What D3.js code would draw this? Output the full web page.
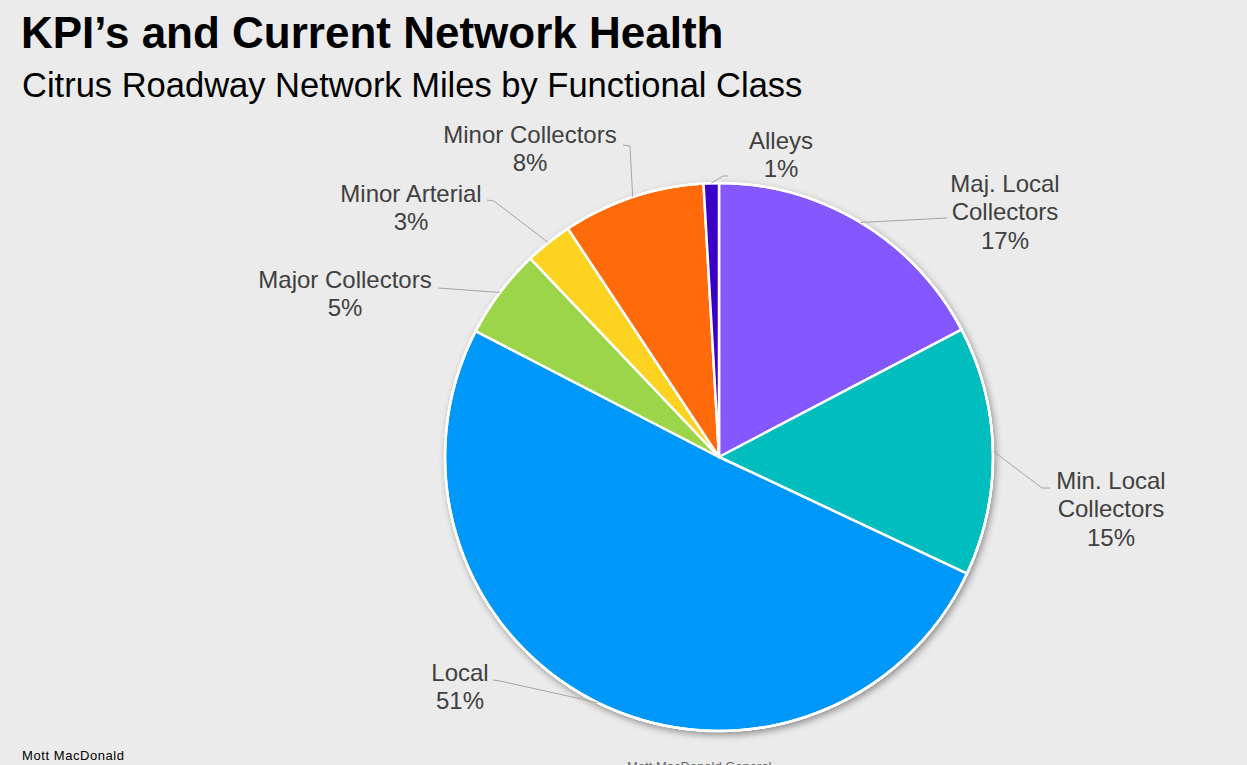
<!DOCTYPE html>
<html>
<head>
<meta charset="utf-8">
<script src="https://cdn.jsdelivr.net/npm/d3@7"></script>
<style>
  html, body { margin: 0; padding: 0; background: #ebebeb; }
  svg { display: block; }
</style>
</head>
<body>
<script>
// ---- data ----
const categories = ["Maj. Local Collectors", "Min. Local Collectors", "Local", "Major Collectors", "Minor Arterial", "Minor Collectors", "Alleys"];
const labelLines = [["Maj. Local", "Collectors"], ["Min. Local", "Collectors"], ["Local"], ["Major Collectors"], ["Minor Arterial"], ["Minor Collectors"], ["Alleys"]];
const shares = [17.3, 14.7, 50.6, 5.3, 2.8, 8.4, 0.9];
const colors = ["#8557ff", "#02bdbd", "#0097fb", "#9cd44a", "#fdd322", "#ff6a0b", "#3a00c8"];

// ---- layout (label anchor centres and leader elbows) ----
const labelLayout = [
  { x: 1005, y: 183, elbow: [[947, 218]] },
  { x: 1111, y: 480, elbow: [[1042, 488], [1050, 488]] },
  { x: 460,  y: 672, elbow: [[500, 681], [493, 680]] },
  { x: 345,  y: 279, elbow: [[438, 288]] },
  { x: 411,  y: 193, elbow: [[494, 201], [487, 200]] },
  { x: 530,  y: 134, elbow: [[630, 146], [623, 145]] },
  { x: 781,  y: 140, elbow: [[723, 176], [728, 176]] }
];

const W = 1247, H = 765;
const cx = 719, cy = 457, R = 274;
const svg = d3.select("body").append("svg").attr("width", W).attr("height", H);

svg.append("rect").attr("width", W).attr("height", H).attr("fill", "#ebebeb");

const defs = svg.append("defs");
const f = defs.append("filter").attr("id", "shadow").attr("x", "-10%").attr("y", "-10%").attr("width", "125%").attr("height", "125%");
f.append("feDropShadow").attr("dx", 2).attr("dy", 3).attr("stdDeviation", 3.5)
  .attr("flood-color", "#000").attr("flood-opacity", 0.4);

// Titles
svg.append("text").attr("x", 21).attr("y", 48)
  .attr("font-family", "Liberation Sans, Arial, sans-serif").attr("font-weight", "bold")
  .attr("font-size", 44).attr("fill", "#000").text("KPI\u2019s and Current Network Health");
svg.append("text").attr("x", 22).attr("y", 97)
  .attr("font-family", "Liberation Sans, Arial, sans-serif")
  .attr("font-size", 34.5).attr("fill", "#000").text("Citrus Roadway Network Miles by Functional Class");

// Pie
const pie = d3.pie().sort(null).value(d => d)(shares);
const arc = d3.arc().innerRadius(0).outerRadius(R);
const edgeArc = d3.arc().innerRadius(R).outerRadius(R);
const g = svg.append("g").attr("transform", `translate(${cx},${cy})`);

g.append("circle").attr("r", R + 1).attr("fill", "#fff").attr("filter", "url(#shadow)");
g.selectAll("path.slice").data(pie).enter().append("path")
  .attr("class", "slice")
  .attr("d", arc)
  .attr("fill", (d, i) => colors[i])
  .attr("stroke", "#fff").attr("stroke-width", 2.5).attr("stroke-linejoin", "round");
g.append("circle").attr("r", R).attr("fill", "none").attr("stroke", "#fff").attr("stroke-width", 2.5);

// Leader lines
const line = d3.line();
pie.forEach((d, i) => {
  const c = edgeArc.centroid(d);
  const start = [cx + c[0], cy + c[1]];
  const pts = [start].concat(labelLayout[i].elbow);
  svg.append("path").attr("d", line(pts)).attr("fill", "none")
    .attr("stroke", "#a6a6a6").attr("stroke-width", 1);
});

// Labels
const pct = v => Math.round(v / d3.sum(shares) * 100) + "%";
pie.forEach((d, i) => {
  const L = labelLayout[i];
  const lines = labelLines[i].concat([pct(shares[i])]);
  const t = svg.append("text")
    .attr("font-family", "Liberation Sans, Arial, sans-serif")
    .attr("font-size", 24).attr("fill", "#404040").attr("text-anchor", "middle");
  lines.forEach((s, k) => {
    t.append("tspan").attr("x", L.x).attr("y", L.y + k * 28.5 + 8.5).text(s);
  });
});

// Footer
svg.append("text").attr("x", 22).attr("y", 760)
  .attr("font-family", "Liberation Sans, Arial, sans-serif")
  .attr("font-size", 13).attr("fill", "#000").attr("textLength", 102).text("Mott MacDonald");
svg.append("text").attr("x", 627).attr("y", 771)
  .attr("font-family", "Liberation Sans, Arial, sans-serif")
  .attr("font-size", 13).attr("fill", "#666").text("Mott MacDonald General");
</script>
</body>
</html>
